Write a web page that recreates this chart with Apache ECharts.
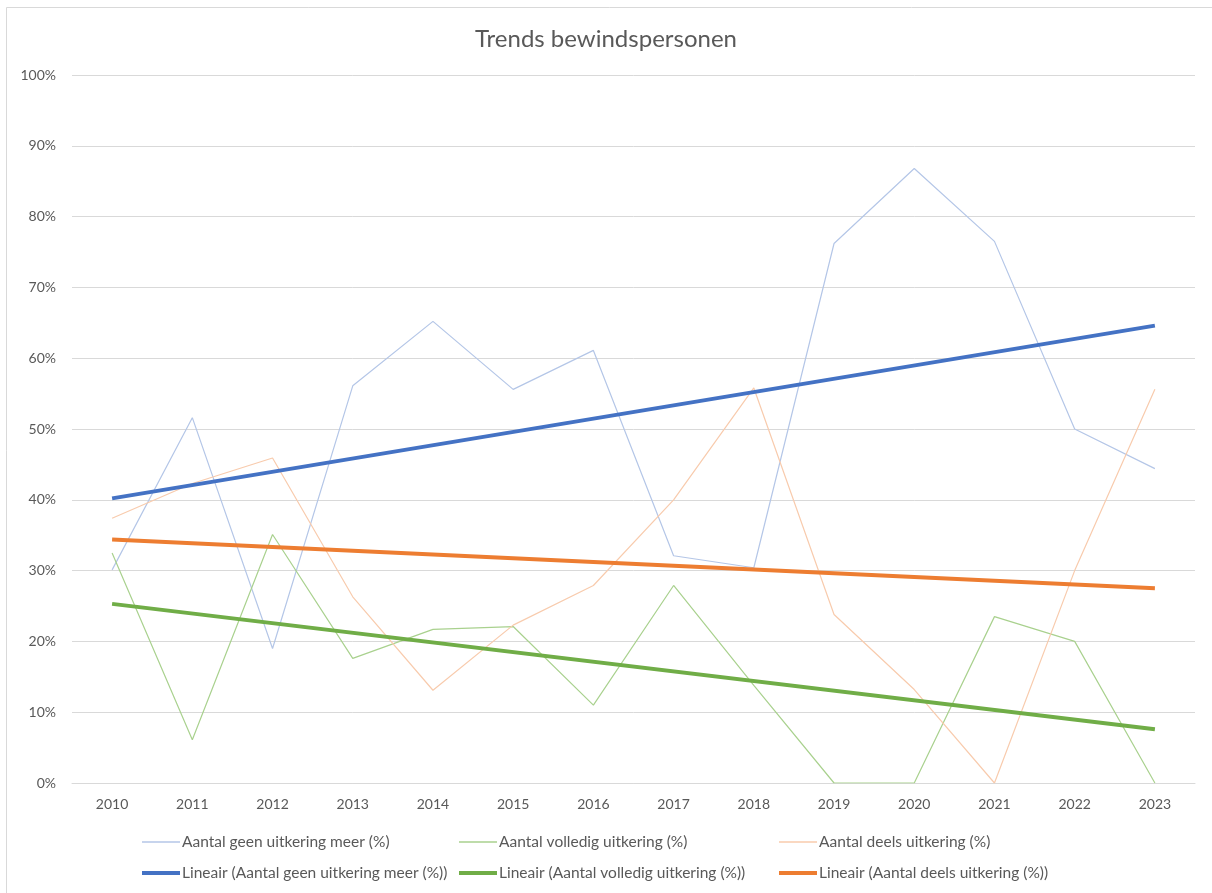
<!DOCTYPE html>
<html>
<head>
<meta charset="utf-8">
<script src="https://cdn.jsdelivr.net/npm/echarts@6/dist/echarts.min.js"></script>
<style>
html,body{margin:0;padding:0;background:#fff;}
#chart{width:1212px;height:893px;}
</style>
</head>
<body>
<div id="chart"></div>
<script>
const years = ['2010','2011','2012','2013','2014','2015','2016','2017','2018','2019','2020','2021','2022','2023'];
const geenUitkering = [30.1, 51.6, 19.0, 56.1, 65.2, 55.6, 61.1, 32.1, 30.4, 76.2, 86.8, 76.5, 50.0, 44.4];
const volledigUitkering = [32.5, 6.1, 35.1, 17.6, 21.7, 22.1, 11.0, 27.9, 13.8, 0, 0, 23.5, 20.0, 0];
const deelsUitkering = [37.4, 42.3, 45.9, 26.3, 13.1, 22.3, 27.9, 40.0, 55.8, 23.8, 13.2, 0, 30.0, 55.6];
// Trend line endpoints (2010, 2023)
const trendGeen = [40.2, 64.6];
const trendVolledig = [25.3, 7.6];
const trendDeels = [34.4, 27.5];
const yTicks = [0, 10, 20, 30, 40, 50, 60, 70, 80, 90, 100];

const names = [
  'Aantal geen uitkering meer (%)',
  'Aantal volledig uitkering (%)',
  'Aantal deels uitkering (%)',
  'Lineair (Aantal geen uitkering meer (%))',
  'Lineair (Aantal volledig uitkering (%))',
  'Lineair (Aantal deels uitkering (%))'
];

function trendSeries(ends) {
  const arr = years.map(() => null);
  arr[0] = ends[0];
  arr[years.length - 1] = ends[1];
  return arr;
}

const font = 'Lato, "Open Sans", sans-serif';
const chart = echarts.init(document.getElementById('chart'));

const legendPos = [
  {left: 137, top: 829, h: 1.5}, {left: 454, top: 829, h: 1.5}, {left: 774, top: 829, h: 1.5},
  {left: 137, top: 860, h: 4}, {left: 454, top: 860, h: 4}, {left: 774, top: 860, h: 4}
];

chart.setOption({
  animation: false,
  backgroundColor: '#ffffff',
  title: {
    text: 'Trends bewindspersonen',
    left: 'center',
    top: 22,
    textStyle: {fontFamily: font, fontSize: 24, fontWeight: 'normal', color: '#595959'}
  },
  graphic: [{
    type: 'rect',
    shape: {x: 6.5, y: 7.5, width: 1230, height: 920},
    style: {fill: 'none', stroke: '#d9d9d9', lineWidth: 1},
    silent: true
  }],
  legend: names.map((n, i) => ({
    data: [n],
    left: legendPos[i].left,
    top: legendPos[i].top,
    itemWidth: 38,
    itemHeight: legendPos[i].h,
    icon: 'rect',
    itemGap: 0,
    textStyle: {fontFamily: font, fontSize: 15.5, color: '#595959', padding: [0, 0, 0, -3]},
    selectedMode: false
  })),
  grid: {left: 72, right: 17, top: 75, bottom: 110, containLabel: false},
  xAxis: {
    type: 'category',
    data: years,
    boundaryGap: true,
    axisLine: {show: true, lineStyle: {color: '#d9d9d9'}},
    axisTick: {show: false},
    axisLabel: {fontFamily: font, fontSize: 14, color: '#595959', margin: 14}
  },
  yAxis: {
    type: 'value',
    min: 0,
    max: 100,
    interval: 10,
    axisLine: {show: false},
    axisTick: {show: false},
    splitLine: {lineStyle: {color: '#d9d9d9', width: 1}},
    axisLabel: {fontFamily: font, fontSize: 14, color: '#595959', margin: 16,
      formatter: v => yTicks.includes(v) ? v + '%' : ''}
  },
  series: [
    {name: names[0], type: 'line', data: geenUitkering, symbol: 'none',
      lineStyle: {color: '#b4c6e7', width: 1.2}, itemStyle: {color: '#b4c6e7'}, z: 2},
    {name: names[1], type: 'line', data: volledigUitkering, symbol: 'none',
      lineStyle: {color: '#a9d18e', width: 1.2}, itemStyle: {color: '#a9d18e'}, z: 2},
    {name: names[2], type: 'line', data: deelsUitkering, symbol: 'none',
      lineStyle: {color: '#f8cbad', width: 1.2}, itemStyle: {color: '#f8cbad'}, z: 2},
    {name: names[3], type: 'line', data: trendSeries(trendGeen), connectNulls: true, symbol: 'none',
      lineStyle: {color: '#4472c4', width: 4}, itemStyle: {color: '#4472c4'}, z: 3},
    {name: names[4], type: 'line', data: trendSeries(trendVolledig), connectNulls: true, symbol: 'none',
      lineStyle: {color: '#70ad47', width: 4}, itemStyle: {color: '#70ad47'}, z: 3},
    {name: names[5], type: 'line', data: trendSeries(trendDeels), connectNulls: true, symbol: 'none',
      lineStyle: {color: '#ed7d31', width: 4}, itemStyle: {color: '#ed7d31'}, z: 3}
  ]
});
</script>
</body>
</html>
